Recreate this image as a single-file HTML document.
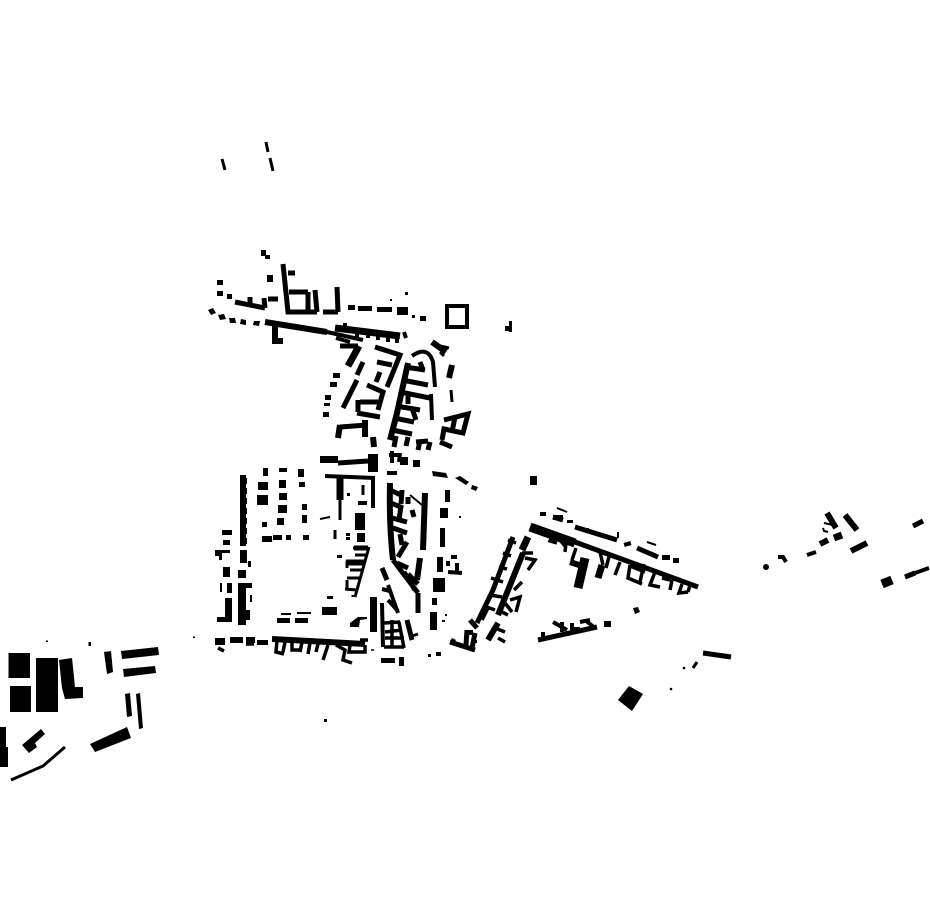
<!DOCTYPE html>
<html><head><meta charset="utf-8"><style>html,body{margin:0;padding:0;background:#fff}svg{display:block}</style></head><body>
<svg width="930" height="924" viewBox="0 0 930 924" xmlns="http://www.w3.org/2000/svg">
<rect width="930" height="924" fill="#fff"/>
<g fill="#000">
<path d="M8.500 653H30V678H8.500ZM10 686H31V712H10ZM36 658H58V712H36ZM59 660L72 658L75 687L83 687L83 698L65 699L62 688ZM104 652L111 651L113 672L107 674ZM121 651L158 647L159 655L122 659ZM123 669L155 666L156 673L124 677ZM125 694L130 693L132 716L127 717ZM136 694L140 693L143 728L139 729ZM90 744L127 727L131 738L95 752ZM22 745L41 729L45 734L35 743L37 747L29 753ZM0 727H6V747H8V767H0ZM46 640.500H48V642H46ZM88.500 642H91V646H88.500ZM193 636.500H195V638H193Z"/>
<path d="M629 686L643 694L632 711L618 700Z"/>
<path d="M261 250H266V255H270V259H265V256H261ZM267 275H273V282H267ZM217 280H223V285H217ZM217 291H223V296H217ZM227 294H232V299H227ZM348 305H355V310H348ZM358 306H372V311H358ZM377 307H392V312H377ZM397 307H408V315H397ZM412 315H415V318H412ZM420 316H426V321H420ZM405 292H408V295H405ZM390 299H392V301H390Z"/>
<path d="M208 310L213 308L216 313L211 315ZM218 315L224 314L226 319L220 320ZM229 318L235 318L236 323L230 323ZM241 319L246 320L246 325L240 324ZM254 321L260 321L259 326L253 325Z"/>
<path d="M333 373H340V378H333ZM330 382H337V387H330ZM325 395H331V400H325ZM324 403H330V406H324ZM323 412H329V417H323Z"/>
<path d="M320 456H338V463H320ZM368 454H378V472H368ZM400 457H408V465H400ZM413 460H420V467H413ZM432 471L446 473L448 478L433 476ZM455 478L460 476L469 482L466 485ZM472 485L478 487L476 491L471 489Z"/>
<path d="M505 326H509V331H505ZM509 321H512V332H509ZM530 476H537V485H530ZM324 719H327V722H324Z"/>
<path d="M263 468H268V476H263ZM279 468H287V472H279ZM298 469H304V477H298ZM258 482H268V490H258ZM279 480H286V488H279ZM299 482H305V487H299ZM257 495H268V505H257ZM279 493H287V500H279ZM302 504H307V510H302ZM278 505H287V513H278ZM302 515H307V523H302ZM262 522H267V527H262ZM277 518H284V525H277ZM262 536H272V542H262ZM273 535H282V540H273ZM286 535H291V540H286ZM303 535H309V540H303Z"/>
<path d="M355 513H365V530H355ZM357 533H365V542H357ZM346 533H350V536H346ZM346 537H350V540H346ZM337 555H342V558H337ZM347 493H350V496H347Z"/>
<path d="M222 530H232V535H222ZM223 540H230V545H223ZM215 550H230V553L222 553V560H219V556H215ZM223 567H230V577H223ZM227 583H232V593H227ZM225 598H232V622H225ZM217 617H230V622H217ZM220 583H222V592H220ZM240 550H247V563H240ZM248 561H251V567H248ZM238 570H246V578H238ZM238 583H246V625H238ZM246 583H252V588H246ZM250 595H252V602H250ZM246 610H250V620H246Z"/>
<path d="M241 478H247V484H241ZM240 488H247V494H240ZM241 498H247V504H241ZM240 508H247V514H240ZM241 518H247V524H241ZM240 528H247V534H240ZM241 538H247V544H241Z"/>
<path d="M445 490H450V502H445ZM440 508H448V518H440ZM440 528H445V547H440ZM437 557H443V572H437ZM433 578H445V592H433ZM432 598H437V605H432ZM430 612H437V630H430ZM459 516H461V518H459ZM445 614H447V616H445ZM442 620H445V622H442Z"/>
<path d="M277 618H290V623H277ZM295 618H308V623H295ZM322 607H337V615H322ZM327 596H333V599H327ZM281 613H291V615H281ZM297 612H311V614H297ZM215 638H225V645H215ZM230 637H243V643H230ZM246 637H255V643H246ZM257 640H268V645H257Z"/>
<path d="M370 597H377V632H370ZM350 623L358 617H367V619L360 620L359 627H350ZM381 658H395V663H381ZM399 657H404V666H399ZM428 654H431V657H428ZM436 652H441V656H436Z"/>
<path d="M540 512H546V516H540ZM553 515H563V520H553ZM567 520H573V523H567ZM662 555H670V560H662ZM673 558H679V563H673ZM604 621H611V627H604ZM633 608L638 607L640 612L635 614ZM452 638L456 640L454 643L450 641ZM469 630H473V635H469ZM474 640H477V643H474Z"/>
<circle cx="684" cy="668" r="1.300"/><circle cx="671" cy="689" r="1.300"/><circle cx="766" cy="567" r="3"/>
</g>
<g fill="none" stroke="#000">
<path stroke-width="5" d="M283 264L288 312H317M288 273H295M289 292H308M308 292V312M315 290L317 312M323 312H338M337 287L338 312"/>
<path stroke-width="5" d="M235 302L265 308M250 297V305M264 298L265 308M268 299H278"/>
<path stroke-width="6" d="M265 322L327 332M275 323V341H283"/><path stroke-width="7" d="M335 328L400 336"/>
<path stroke-width="4" d="M327 332L363 340M336 338L350 342M345 323V330M357 330V337M368 331V338M378 331V340M388 332V342M397 333V343M404 332L406 338"/>
<path stroke-width="4" stroke="#000" d="M447 306H467V327H447Z"/>
<path stroke-width="5" d="M340 346H358"/><path stroke-width="7" d="M359 346L348 366"/>
<path stroke-width="5" d="M363 362L357 375M357 380L343 408"/>
<path stroke-width="5" d="M375 347L400 355L387 387M377 362L392 365M380 372L376 382M367 385L383 392L378 410M357 413L380 417M360 402H378M358 400L358 412M340 427L367 425"/>
<path stroke-width="6" d="M340 425L338 438M365 420V437M373 437L374 447"/>
<path stroke-width="4" d="M412 356Q428 345 433 362L435 387M431 394L432 420"/>
<path stroke-width="6" d="M408 363Q402 390 397 413L390 440"/>
<path stroke-width="5" d="M405 367L425 370M420 362L423 370M402 380L428 385M400 392L430 398M408 396V404M396 406L420 410M394 418L414 422M412 408L416 420M392 430L412 434M396 436L394 447M408 437L406 446M416 442L428 441M420 441L418 450M430 442L428 450"/>
<path stroke-width="6" d="M432 342L446 352M452 365L449 378"/><path stroke-width="3" d="M451 390L452 402M436 345L449 348M440 352L444 356"/>
<path stroke-width="5" d="M444 420L468 414L463 433L444 429L442 440M455 417L452 432M440 442L452 447"/>
<path stroke-width="5" d="M338 463L368 461"/>
<path stroke-width="4" d="M389 455H400M392 451V463M400 453L399 462"/>
<path stroke-width="4" d="M325 476L375 478M373 477V508M358 503H367M387 473H397"/><path stroke-width="3" d="M363 485V495"/>
<path stroke-width="7" d="M340 475V500"/><path stroke-width="3" d="M340 500V520M335 530V539"/><path stroke-width="2" d="M320 519L330 517"/>
<path stroke-width="3" d="M369 547L355 597M353 548H368M355 555H367M346 561H365M347 561V568M350 570H362M347 578H360M347 580V589M345 589L357 590M353 595V597"/>
<path stroke-width="5" d="M354 548H368M348 563H364"/>
<path stroke-width="6" d="M243 475V546"/>
<path stroke-width="6" d="M390 483Q389 525 393 560"/>
<path stroke-width="5" d="M393 560L418 593M390 490L403 496M391 503L403 508M392 518L407 522M393 528L407 533M398 557L407 542M397 563L408 568M402 490L401 504M401 506L399 520M400 534L402 545M408 574L418 584M404 572L415 590M418 593V613M408 497L408 504M412 510L414 517"/>
<path stroke-width="2" d="M410 495L422 505"/>
<path stroke-width="6" d="M425 493L423 550M420 558L417 580"/>
<path stroke-width="4" d="M451 557H457M457 563V573M448 572L462 573M448 561V566"/>
<path stroke-width="5" d="M382 568L387 580"/><path stroke-width="4" d="M388 585L398 613M382 589L390 591M388 600L398 611M382 603L383 647"/>
<path stroke-width="3.500" d="M384 623L400 622M385 632L402 630M385 638L404 638M399 622L404 648M384 647H404M392 620V646"/>
<path stroke-width="5" d="M407 620L412 640"/><path stroke-width="3" d="M412 636L418 634"/>
<path stroke-width="6" d="M272 639L365 644"/>
<path stroke-width="3.500" d="M277 640L276 652L284 654M285 642L283 652M292 643V650L302 650M302 642L300 652M310 643L308 654M318 644L316 652M328 645L323 660M336 645L345 650L343 660L352 663M350 645L349 652L365 652L365 645M360 640H368M218 648L224 651M246 644H254"/>
<path stroke-width="1.500" d="M371 650H374"/>
<path stroke-width="9" d="M530 527L575 543"/>
<path stroke-width="5" d="M575 542L698 587"/>
<path stroke-width="7" d="M528 537L522 550"/>
<path stroke-width="6" d="M523 553L498 615M488 640L498 623"/>
<path stroke-width="5" d="M513 537L493 590L477 623M450 642L475 650M467 630L466 645M475 633L472 648M477 628L470 620"/>
<path stroke-width="3.500" d="M522 553H533M525 558L535 560L528 570M508 540L516 543M503 553L511 556M499 567L507 569M491 578L503 582M490 595L502 597M484 606L495 610M514 590L522 582M510 600L520 597L516 612M505 603L512 612M495 628L505 632M498 638L505 642M498 610L508 615M488 608L482 620"/>
<path stroke-width="5" d="M575 527L617 540M637 548L658 557M553 517L563 520"/><path stroke-width="7" d="M627 542L628 546"/>
<path stroke-width="2" d="M557 508L567 512M647 542L656 545M588 533V528M618 532V538"/>
<path stroke-width="9" d="M585 558L578 588"/><path stroke-width="6" d="M570 562L585 567"/>
<path stroke-width="7" d="M602 565L598 578"/>
<path stroke-width="3.500" d="M552 536L550 541L557 543M560 540L565 546M566 543L565 552M576 548L572 560M600 552L603 565M610 553L606 568M620 562L615 575M630 565L628 578L642 584M644 564L640 582M630 566L645 572M655 572L650 585L660 587M662 578L670 580M672 580L670 590M682 584L679 593L688 592M690 585L688 592"/>
<path stroke-width="5" d="M538 640L597 627"/>
<path stroke-width="4" d="M543 632V638M553 622L567 630M562 622L562 632M572 623V629L580 629M585 620L595 628M580 622L590 620"/>
<path stroke-width="5" d="M703 653L731 657"/><path stroke-width="3" d="M697 662L693 668"/>
<path stroke-width="3" d="M11 780L43 766L65 747"/>
<path stroke-width="3" d="M222 159L225 170M266 142L268 152M270 158L273 171"/>
<path stroke-width="4" d="M778 557L783 557L786 562M807 555L816 552"/>
<path stroke-width="6" d="M820 544L828 540M851 551L867 543M845 515L857 530M827 513L836 528"/><path stroke-width="7" d="M834 538L842 535"/>
<path stroke-width="2" d="M824 523L833 525M823 528L824 531L828 532"/>
<path stroke-width="5" d="M913 526L923 521M905 577L915 573"/><path stroke-width="4" d="M915 573L929 568"/>
<path stroke-width="9" d="M882 584L892 580"/>
</g>
</svg>
</body></html>
